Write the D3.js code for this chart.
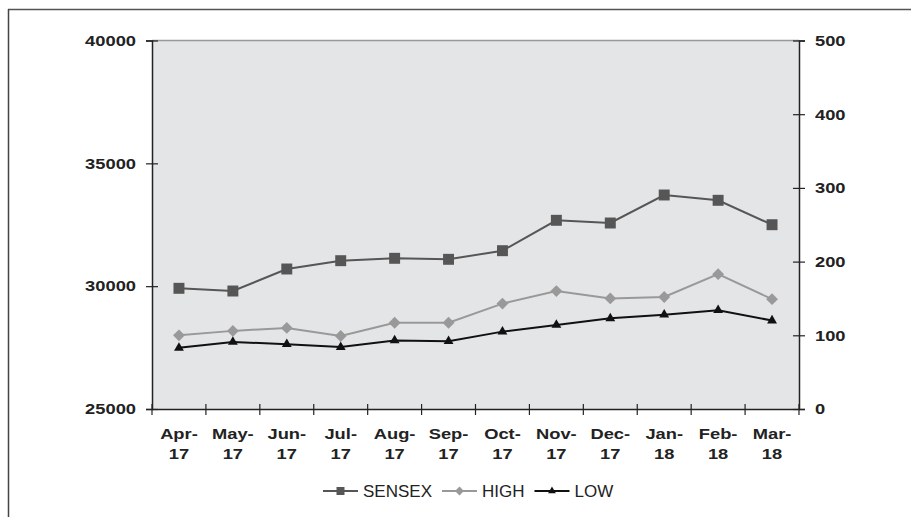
<!DOCTYPE html>
<html>
<head>
<meta charset="utf-8">
<script src="https://cdn.jsdelivr.net/npm/d3@7"></script>
<style>
  body { margin: 0; background: #fff; }
  svg { display: block; font-family: "Liberation Sans", Arial, sans-serif; }
</style>
</head>
<body>
<div id="chart"></div>
<script>
// données
const months = ['Apr-17', 'May-17', 'Jun-17', 'Jul-17', 'Aug-17', 'Sep-17',
                'Oct-17', 'Nov-17', 'Dec-17', 'Jan-18', 'Feb-18', 'Mar-18'];
const sensex = [29913, 29803, 30699, 31037, 31134, 31093, 31444, 32681, 32571, 33711, 33495, 32502];
const high = [100, 106, 110, 99, 117, 117, 143, 160, 150, 152, 183, 149];
const low = [83, 91, 88, 84, 93, 92, 105, 114, 123, 128, 134, 120];
const leftTicks = [25000, 30000, 35000, 40000];
const rightTicks = [0, 100, 200, 300, 400, 500];

const width = 911, height = 517;
const margin = { top: 40.5, right: 112, bottom: 108, left: 152 };
const plotW = width - margin.left - margin.right;
const plotH = height - margin.top - margin.bottom;
const font = '"Liberation Sans", Arial, sans-serif';
const stretch = 1.22; // le texte gras des axes est plus large dans l'original

const svg = d3.select('#chart').append('svg')
    .attr('width', width)
    .attr('height', height);

// étire un texte horizontalement
function widen(sel) {
    sel.each(function () {
        const w = this.getComputedTextLength();
        d3.select(this).attr('textLength', w * stretch).attr('lengthAdjust', 'spacingAndGlyphs');
    });
}

// cadre extérieur (haut et gauche seulement)
svg.append('line').attr('x1', 8).attr('x2', width).attr('y1', 9.5).attr('y2', 9.5)
    .attr('stroke', '#555').attr('stroke-width', 1.5);
svg.append('line').attr('x1', 8.5).attr('x2', 8.5).attr('y1', 9).attr('y2', height)
    .attr('stroke', '#444').attr('stroke-width', 1.5);

const g = svg.append('g').attr('transform', `translate(${margin.left},${margin.top})`);

const x = d3.scaleBand().domain(months).range([0, plotW]);
const yL = d3.scaleLinear().domain([25000, 40000]).range([plotH, 0]);
const yR = d3.scaleLinear().domain([0, 500]).range([plotH, 0]);

// fond de la zone de tracé
g.append('rect')
    .attr('width', plotW).attr('height', plotH)
    .attr('fill', '#e4e5e7');
g.append('line').attr('x1', 0).attr('x2', plotW).attr('y1', 0).attr('y2', 0)
    .attr('stroke', '#999').attr('stroke-width', 1.5);

// axes gauche / droit / bas
const axL = g.append('g')
    .call(d3.axisLeft(yL).tickValues(leftTicks).tickSize(6).tickPadding(10).tickFormat(d3.format('d')));
const axR = g.append('g').attr('transform', `translate(${plotW},0)`)
    .call(d3.axisRight(yR).tickValues(rightTicks).tickSize(6).tickPadding(10).tickFormat(d3.format('d')));
const axB = g.append('g').attr('transform', `translate(0,${plotH})`)
    .call(d3.axisBottom(x).tickSize(0).tickFormat(''));

[axL, axR, axB].forEach(ax => {
    ax.attr('font-size', null).attr('font-family', null);
    ax.select('.domain').attr('stroke', '#222').attr('stroke-width', 1.5);
    ax.selectAll('.tick line').attr('stroke', '#222').attr('stroke-width', 1.2);
    ax.selectAll('.tick text')
        .style('font-size', '15px')
        .style('font-weight', 'bold')
        .style('font-family', font)
        .attr('fill', '#222')
        .call(widen);
});
// graduations croisées
axL.selectAll('.tick line').attr('x1', 6);
axR.selectAll('.tick line').attr('x1', -6);

// graduations du bas entre les catégories
const bTicks = d3.range(months.length + 1).map(i => i * x.step());
g.append('g').selectAll('line')
    .data(bTicks)
    .enter()
    .append('line')
    .attr('x1', d => d).attr('x2', d => d)
    .attr('y1', plotH - 5).attr('y2', plotH + 6)
    .attr('stroke', '#222').attr('stroke-width', 1.2);

// étiquettes des mois sur deux lignes
[0, 1].forEach(row => {
    g.append('g').selectAll('text')
        .data(months)
        .enter()
        .append('text')
        .attr('x', d => x(d) + x.bandwidth() / 2)
        .attr('y', plotH + 30 + row * 20)
        .attr('text-anchor', 'middle')
        .style('font-size', '15px')
        .style('font-weight', 'bold')
        .attr('fill', '#222')
        .text(d => row === 0 ? d.split('-')[0] + '-' : d.split('-')[1])
        .call(widen);
});

const cx = (d, i) => x(months[i]) + x.bandwidth() / 2;

const series = [
    { name: 'SENSEX', values: sensex, y: yL, color: '#565656', marker: d3.symbolSquare, size: 120, rot: 0, lsize: 64 },
    { name: 'HIGH', values: high, y: yR, color: '#999999', marker: d3.symbolSquare, size: 70, rot: 45, lsize: 40 },
    { name: 'LOW', values: low, y: yR, color: '#111111', marker: d3.symbolTriangle, size: 42, rot: 0, lsize: 26 }
];

series.forEach(s => {
    const line = d3.line().x(cx).y(d => s.y(d));
    g.append('path')
        .datum(s.values)
        .attr('fill', 'none')
        .attr('stroke', s.color)
        .attr('stroke-width', 2)
        .attr('d', line);
    g.append('g').selectAll('path')
        .data(s.values)
        .enter()
        .append('path')
        .attr('transform', (d, i) => `translate(${cx(d, i)},${s.y(d)}) rotate(${s.rot})`)
        .attr('d', d3.symbol().type(s.marker).size(s.size))
        .attr('fill', s.color);
});

// légende
const legend = svg.append('g');
const lineLen = 35, ly = 491;
let lx = 0;
series.forEach(s => {
    legend.append('line')
        .attr('x1', lx).attr('x2', lx + lineLen)
        .attr('y1', ly).attr('y2', ly)
        .attr('stroke', s.color).attr('stroke-width', 2);
    legend.append('path')
        .attr('transform', `translate(${lx + lineLen / 2},${ly}) rotate(${s.rot})`)
        .attr('d', d3.symbol().type(s.marker).size(s.lsize))
        .attr('fill', s.color);
    const t = legend.append('text')
        .attr('x', lx + lineLen + 5)
        .attr('y', ly + 6)
        .style('font-size', '17px')
        .attr('fill', '#222')
        .text(s.name);
    lx += lineLen + 5 + t.node().getComputedTextLength() + 10;
});
legend.attr('transform', 'translate(323,0)');
</script>
</body>
</html>
